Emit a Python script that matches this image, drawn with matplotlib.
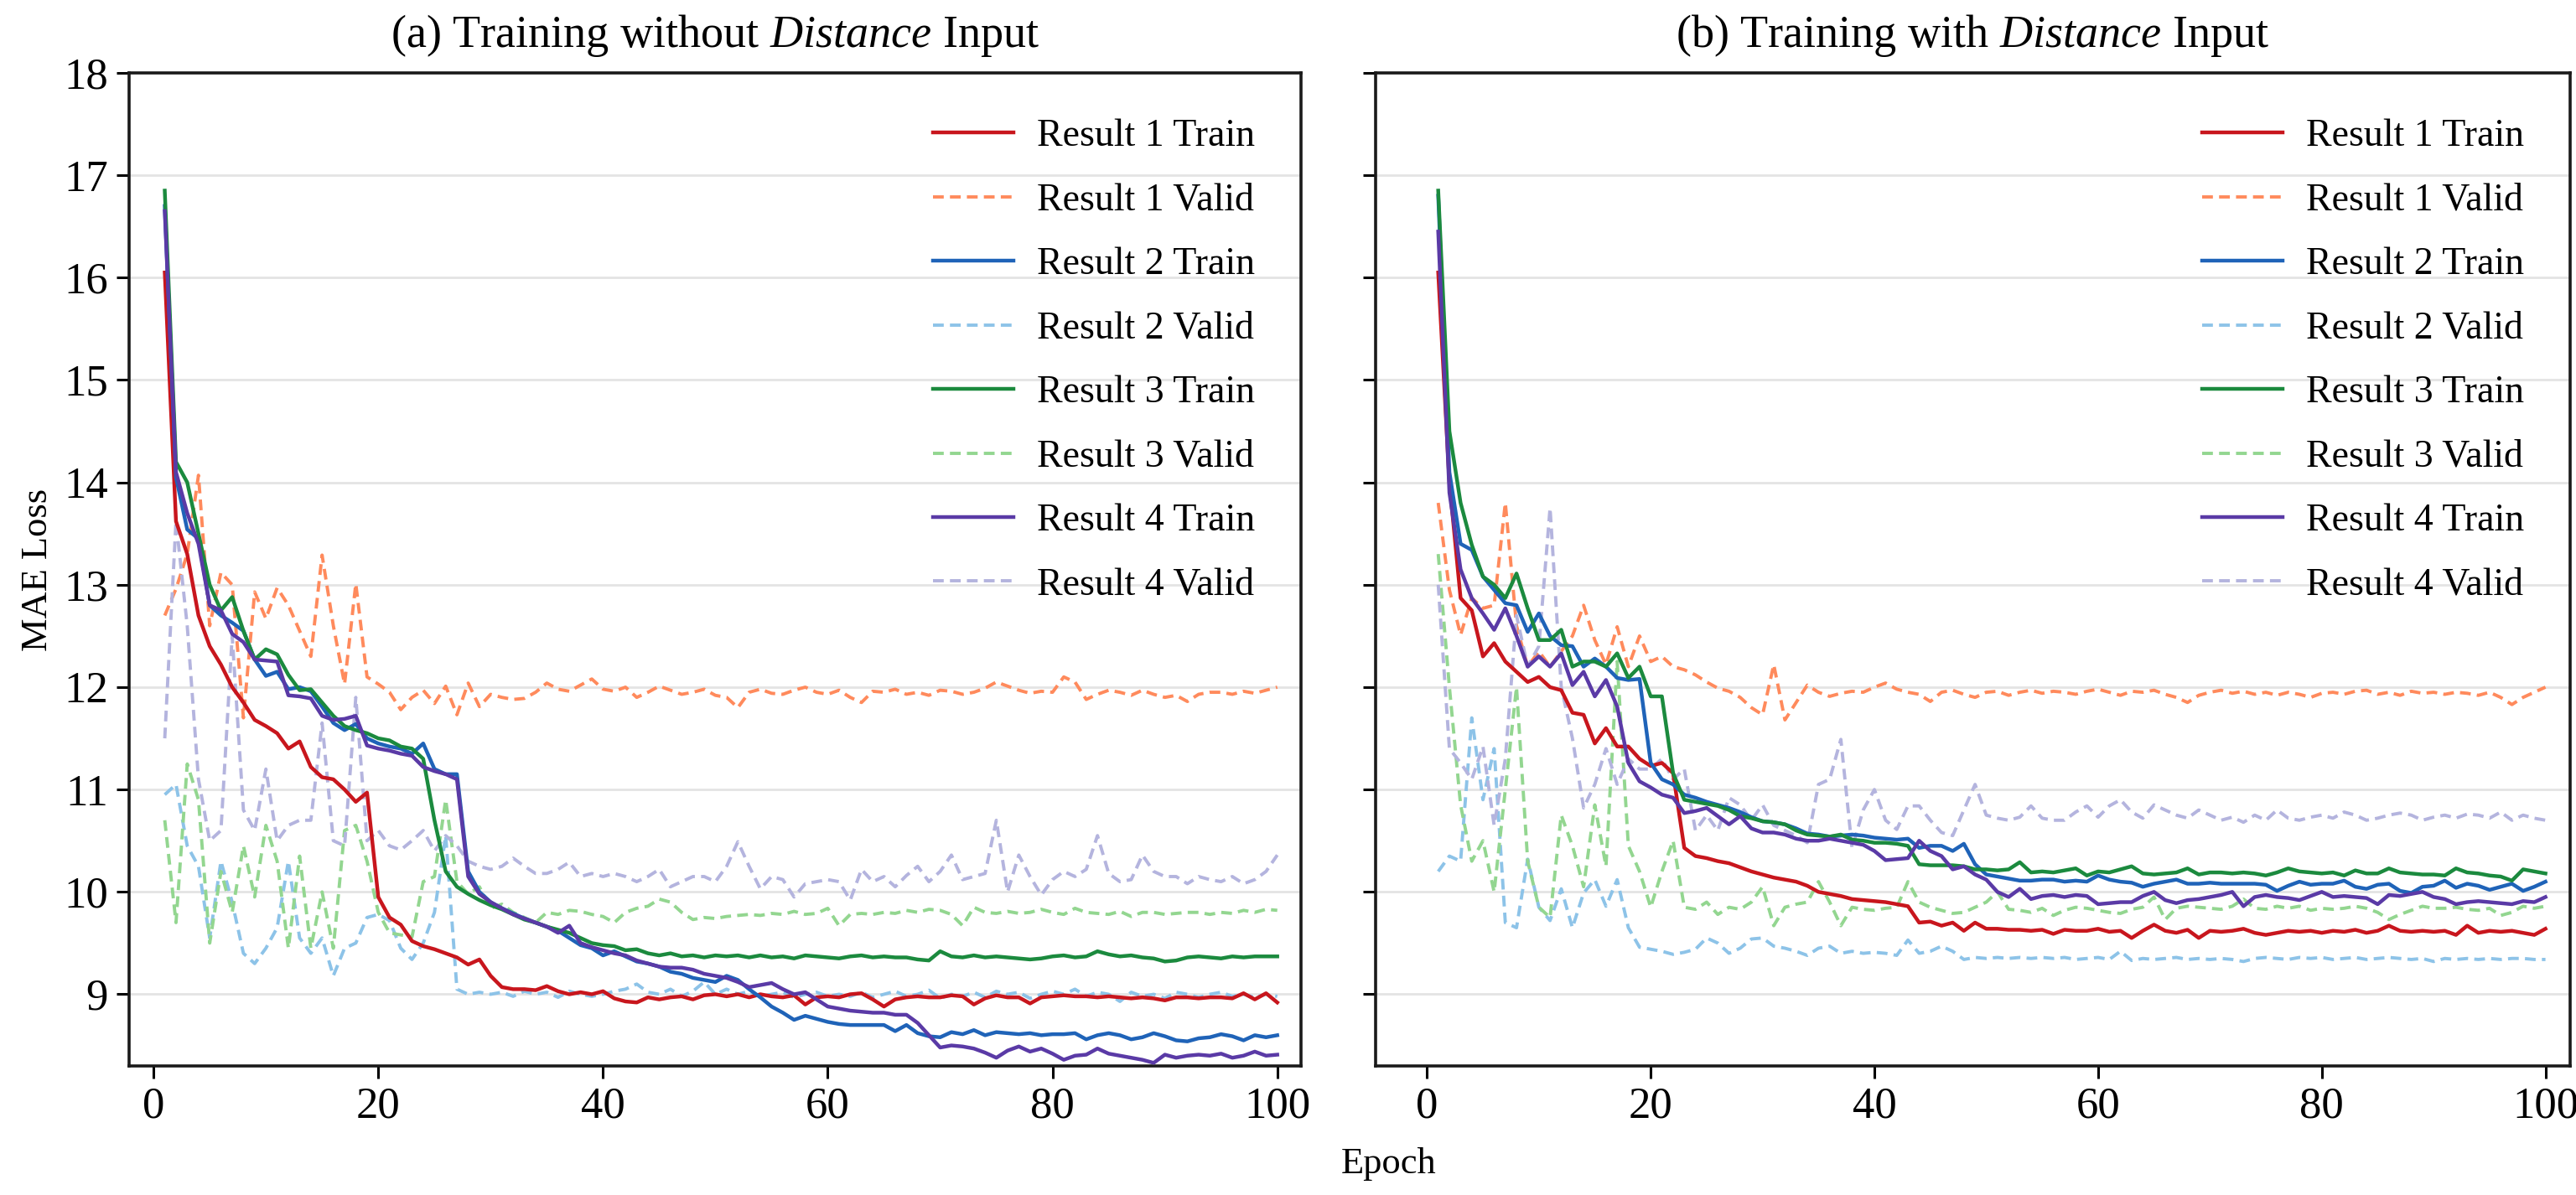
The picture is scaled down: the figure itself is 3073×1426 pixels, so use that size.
import matplotlib
matplotlib.use("Agg")
import matplotlib.pyplot as plt
import numpy as np

plt.rcParams["font.family"] = ["Liberation Serif", "DejaVu Serif"]
plt.rcParams["mathtext.fontset"] = "custom"
plt.rcParams["mathtext.rm"] = "Liberation Serif"
plt.rcParams["mathtext.it"] = "Liberation Serif:italic"

epochs = np.arange(1, 101)

# ---- (a) training without distance input ----
a_r1_train = [16.05, 13.62, 13.30, 12.70, 12.40, 12.22, 12.00, 11.85, 11.68, 11.62,
              11.55, 11.40, 11.47, 11.22, 11.12, 11.10, 11.00, 10.88, 10.97, 9.95,
              9.75, 9.68, 9.52, 9.47, 9.44, 9.40, 9.36, 9.29, 9.34, 9.18,
              9.07, 9.05, 9.05, 9.04, 9.08, 9.03, 9.00, 9.02, 9.00, 9.03,
              8.96, 8.93, 8.92, 8.97, 8.95, 8.97, 8.98, 8.95, 8.99, 9.00,
              8.98, 9.00, 8.97, 9.00, 8.98, 8.97, 8.99, 8.90, 8.97, 8.98,
              8.97, 9.00, 9.01, 8.95, 8.88, 8.95, 8.97, 8.98, 8.97, 8.97,
              8.99, 8.98, 8.90, 8.96, 8.99, 8.97, 8.97, 8.91, 8.97, 8.98,
              8.99, 8.98, 8.98, 8.97, 8.98, 8.97, 8.96, 8.97, 8.96, 8.94,
              8.97, 8.97, 8.96, 8.97, 8.97, 8.96, 9.01, 8.95, 9.01, 8.92]
a_r1_valid = [12.70, 12.96, 13.30, 14.07, 12.60, 13.12, 13.00, 11.70, 12.93, 12.67,
              12.97, 12.80, 12.55, 12.30, 13.29, 12.60, 12.03, 13.01, 12.10, 12.03,
              11.95, 11.78, 11.90, 11.97, 11.84, 12.01, 11.73, 12.04, 11.81, 11.93,
              11.90, 11.88, 11.89, 11.95, 12.04, 11.98, 11.96, 12.02, 12.08, 11.98,
              11.96, 12.00, 11.90, 11.95, 12.01, 11.97, 11.93, 11.95, 11.98, 11.92,
              11.90, 11.80, 11.95, 11.98, 11.94, 11.93, 11.97, 12.00, 11.95, 11.93,
              11.97, 11.90, 11.85, 11.96, 11.95, 11.98, 11.93, 11.95, 11.92, 11.97,
              11.96, 11.93, 11.95, 11.99, 12.05, 12.01, 11.97, 11.94, 11.96, 11.95,
              12.10, 12.05, 11.88, 11.93, 11.97, 11.95, 11.92, 11.97, 11.93, 11.90,
              11.92, 11.86, 11.93, 11.95, 11.95, 11.93, 11.96, 11.94, 11.97, 12.00]
a_r2_train = [16.70, 14.05, 13.54, 13.45, 12.80, 12.70, 12.63, 12.55, 12.27, 12.11,
              12.15, 11.98, 12.00, 11.96, 11.81, 11.65, 11.58, 11.64, 11.50, 11.45,
              11.42, 11.40, 11.35, 11.45, 11.20, 11.15, 11.15, 10.20, 10.00, 9.90,
              9.84, 9.79, 9.74, 9.70, 9.66, 9.62, 9.55, 9.48, 9.45, 9.38,
              9.42, 9.37, 9.32, 9.30, 9.27, 9.22, 9.20, 9.16, 9.14, 9.12,
              9.18, 9.14, 9.05, 8.97, 8.88, 8.82, 8.75, 8.79, 8.76, 8.73,
              8.71, 8.70, 8.70, 8.70, 8.70, 8.64, 8.70, 8.62, 8.59, 8.58,
              8.63, 8.61, 8.65, 8.60, 8.63, 8.62, 8.61, 8.62, 8.60, 8.61,
              8.61, 8.62, 8.56, 8.60, 8.62, 8.60, 8.56, 8.58, 8.62, 8.59,
              8.55, 8.54, 8.57, 8.58, 8.61, 8.59, 8.55, 8.60, 8.58, 8.60]
a_r2_valid = [10.95, 11.05, 10.45, 10.25, 9.55, 10.30, 9.90, 9.40, 9.30, 9.45,
              9.65, 10.30, 9.55, 9.40, 9.55, 9.18, 9.45, 9.50, 9.75, 9.78,
              9.72, 9.45, 9.34, 9.50, 9.80, 10.55, 9.05, 9.00, 9.02, 9.00,
              9.02, 8.98, 9.03, 9.00, 9.02, 8.97, 9.03, 9.00, 8.98, 9.00,
              9.03, 9.05, 9.10, 9.02, 9.00, 9.05, 8.98, 9.03, 9.12, 9.00,
              9.05, 9.00, 9.03, 8.98, 9.00, 9.02, 8.97, 9.00, 9.02, 8.98,
              9.00, 8.98, 9.02, 8.97, 9.00, 9.03, 8.98, 9.00, 9.04, 8.96,
              9.00, 8.98, 9.02, 8.97, 9.03, 9.00, 9.02, 8.96, 9.00, 9.03,
              9.00, 9.05, 8.98, 9.02, 9.00, 8.93, 9.02, 8.98, 9.00, 8.96,
              9.02, 9.00, 8.97, 9.00, 9.02, 8.98, 9.00, 8.97, 9.00, 8.98]
a_r3_train = [16.85, 14.20, 14.00, 13.50, 13.00, 12.75, 12.88, 12.55, 12.27, 12.37,
              12.32, 12.12, 11.97, 11.98, 11.85, 11.72, 11.62, 11.58, 11.55, 11.50,
              11.48, 11.42, 11.40, 11.30, 10.70, 10.20, 10.05, 9.98, 9.92, 9.87,
              9.83, 9.78, 9.73, 9.70, 9.66, 9.63, 9.60, 9.55, 9.50, 9.48,
              9.47, 9.43, 9.44, 9.40, 9.38, 9.40, 9.37, 9.38, 9.36, 9.38,
              9.37, 9.38, 9.36, 9.38, 9.36, 9.37, 9.35, 9.38, 9.37, 9.36,
              9.35, 9.37, 9.38, 9.36, 9.37, 9.36, 9.36, 9.34, 9.33, 9.42,
              9.37, 9.36, 9.38, 9.36, 9.37, 9.36, 9.35, 9.34, 9.35, 9.37,
              9.38, 9.36, 9.37, 9.42, 9.39, 9.37, 9.38, 9.36, 9.35, 9.32,
              9.33, 9.36, 9.37, 9.36, 9.35, 9.37, 9.36, 9.37, 9.37, 9.37]
a_r3_valid = [10.70, 9.70, 11.25, 10.90, 9.50, 10.20, 9.80, 10.45, 9.95, 10.65,
              10.30, 9.45, 10.35, 9.45, 10.00, 9.45, 10.60, 10.65, 10.30, 9.80,
              9.60, 9.58, 9.56, 10.10, 10.15, 10.90, 10.10, 9.98, 10.05, 9.84,
              9.88, 9.80, 9.75, 9.70, 9.80, 9.78, 9.82, 9.81, 9.78, 9.76,
              9.70, 9.80, 9.84, 9.86, 9.93, 9.90, 9.80, 9.73, 9.75, 9.74,
              9.76, 9.77, 9.78, 9.77, 9.79, 9.78, 9.81, 9.78, 9.79, 9.84,
              9.67, 9.78, 9.79, 9.78, 9.80, 9.79, 9.82, 9.80, 9.83, 9.82,
              9.78, 9.67, 9.85, 9.80, 9.79, 9.81, 9.79, 9.80, 9.83, 9.80,
              9.78, 9.84, 9.80, 9.79, 9.78, 9.81, 9.76, 9.80, 9.80, 9.78,
              9.79, 9.80, 9.80, 9.78, 9.80, 9.79, 9.82, 9.80, 9.83, 9.82]
a_r4_train = [16.65, 14.10, 13.70, 13.40, 12.80, 12.75, 12.52, 12.44, 12.27, 12.26,
              12.25, 11.92, 11.91, 11.89, 11.72, 11.68, 11.69, 11.72, 11.43, 11.40,
              11.38, 11.35, 11.33, 11.22, 11.18, 11.15, 11.10, 10.15, 9.98, 9.90,
              9.84, 9.78, 9.74, 9.70, 9.66, 9.60, 9.67, 9.50, 9.46, 9.43,
              9.40, 9.38, 9.33, 9.30, 9.27, 9.26, 9.26, 9.24, 9.20, 9.18,
              9.16, 9.12, 9.07, 9.09, 9.11, 9.05, 9.00, 9.02, 8.95, 8.88,
              8.86, 8.84, 8.83, 8.82, 8.82, 8.80, 8.80, 8.72, 8.60, 8.48,
              8.50, 8.49, 8.47, 8.43, 8.38, 8.45, 8.49, 8.44, 8.47, 8.42,
              8.36, 8.40, 8.41, 8.47, 8.42, 8.40, 8.38, 8.36, 8.33, 8.41,
              8.38, 8.40, 8.41, 8.40, 8.42, 8.38, 8.40, 8.44, 8.40, 8.41]
a_r4_valid = [11.50, 13.62, 12.60, 11.10, 10.50, 10.60, 12.50, 10.80, 10.60, 11.20,
              10.50, 10.65, 10.70, 10.70, 11.65, 10.50, 10.45, 11.90, 10.50, 10.60,
              10.45, 10.41, 10.50, 10.60, 10.40, 10.55, 10.45, 10.30, 10.25, 10.22,
              10.25, 10.33, 10.25, 10.18, 10.18, 10.22, 10.29, 10.15, 10.18, 10.15,
              10.18, 10.15, 10.10, 10.15, 10.22, 10.05, 10.10, 10.15, 10.15, 10.10,
              10.25, 10.49, 10.25, 10.03, 10.15, 10.12, 9.95, 10.08, 10.10, 10.12,
              10.10, 9.92, 10.22, 10.10, 10.15, 10.05, 10.16, 10.25, 10.10, 10.20,
              10.36, 10.12, 10.15, 10.18, 10.70, 10.00, 10.36, 10.15, 9.97, 10.12,
              10.20, 10.15, 10.22, 10.55, 10.18, 10.10, 10.12, 10.36, 10.20, 10.15,
              10.15, 10.08, 10.15, 10.12, 10.10, 10.15, 10.08, 10.12, 10.20, 10.36]

# ---- (b) training with distance input ----
b_r1_train = [16.05, 14.00, 12.87, 12.75, 12.30, 12.43, 12.25, 12.15, 12.05, 12.10,
              12.00, 11.97, 11.75, 11.73, 11.45, 11.60, 11.42, 11.42, 11.30, 11.23,
              11.26, 11.16, 10.43, 10.35, 10.33, 10.30, 10.28, 10.24, 10.20, 10.17,
              10.14, 10.12, 10.10, 10.06, 10.00, 9.98, 9.96, 9.93, 9.92, 9.91,
              9.90, 9.88, 9.86, 9.70, 9.71, 9.67, 9.70, 9.62, 9.70, 9.64,
              9.64, 9.63, 9.63, 9.62, 9.63, 9.59, 9.63, 9.62, 9.62, 9.64,
              9.61, 9.62, 9.55, 9.62, 9.68, 9.62, 9.60, 9.63, 9.55, 9.62,
              9.61, 9.62, 9.64, 9.60, 9.58, 9.60, 9.62, 9.61, 9.62, 9.60,
              9.62, 9.61, 9.63, 9.60, 9.62, 9.67, 9.62, 9.61, 9.62, 9.61,
              9.62, 9.58, 9.67, 9.60, 9.62, 9.61, 9.62, 9.60, 9.58, 9.64]
b_r1_valid = [13.80, 12.95, 12.51, 12.87, 12.77, 12.80, 13.80, 12.60, 12.20, 12.35,
              12.20, 12.35, 12.50, 12.80, 12.46, 12.22, 12.59, 12.20, 12.50, 12.25,
              12.30, 12.20, 12.17, 12.12, 12.05, 11.99, 11.96, 11.90, 11.80, 11.73,
              12.22, 11.68, 11.85, 12.02, 11.95, 11.91, 11.94, 11.96, 11.95, 12.00,
              12.04, 11.98, 11.95, 11.93, 11.86, 11.95, 11.97, 11.93, 11.90, 11.95,
              11.96, 11.92, 11.95, 11.97, 11.94, 11.96, 11.95, 11.93, 11.96, 11.98,
              11.95, 11.92, 11.96, 11.95, 11.97, 11.93, 11.90, 11.85, 11.92, 11.95,
              11.97, 11.94, 11.96, 11.93, 11.95, 11.92, 11.95, 11.93, 11.90, 11.94,
              11.95, 11.93, 11.96, 11.97, 11.93, 11.95, 11.92, 11.96, 11.94, 11.95,
              11.93, 11.95, 11.94, 11.92, 11.95, 11.90, 11.83, 11.90, 11.95, 12.00]
b_r2_train = [16.80, 14.10, 13.40, 13.34, 13.08, 12.95, 12.82, 12.80, 12.54, 12.72,
              12.50, 12.41, 12.40, 12.20, 12.28, 12.20, 12.09, 12.07, 12.08, 11.26,
              11.10, 11.05, 10.95, 10.92, 10.88, 10.85, 10.82, 10.78, 10.73, 10.69,
              10.68, 10.66, 10.62, 10.57, 10.56, 10.54, 10.55, 10.56, 10.55, 10.53,
              10.52, 10.51, 10.52, 10.43, 10.45, 10.45, 10.40, 10.47, 10.27, 10.17,
              10.15, 10.13, 10.11, 10.11, 10.12, 10.12, 10.10, 10.11, 10.10, 10.16,
              10.12, 10.10, 10.09, 10.05, 10.08, 10.10, 10.12, 10.08, 10.08, 10.09,
              10.08, 10.08, 10.08, 10.08, 10.07, 10.01, 10.06, 10.10, 10.07, 10.08,
              10.08, 10.11, 10.05, 10.03, 10.07, 10.08, 10.01, 9.99, 10.05, 10.06,
              10.11, 10.04, 10.08, 10.06, 10.02, 10.05, 10.08, 10.01, 10.05, 10.10]
b_r2_valid = [10.20, 10.35, 10.30, 11.70, 10.90, 11.40, 9.70, 9.65, 10.32, 9.85,
              9.72, 10.03, 9.65, 9.99, 10.12, 9.86, 10.12, 9.65, 9.46, 9.44,
              9.42, 9.39, 9.41, 9.44, 9.55, 9.50, 9.40, 9.45, 9.54, 9.55,
              9.47, 9.45, 9.42, 9.38, 9.45, 9.47, 9.40, 9.42, 9.40, 9.41,
              9.40, 9.38, 9.53, 9.40, 9.42, 9.47, 9.42, 9.34, 9.36, 9.35,
              9.36, 9.35, 9.36, 9.35, 9.36, 9.35, 9.36, 9.34, 9.35, 9.36,
              9.34, 9.42, 9.33, 9.35, 9.34, 9.35, 9.36, 9.34, 9.35, 9.34,
              9.35, 9.34, 9.32, 9.35, 9.36, 9.35, 9.34, 9.36, 9.35, 9.36,
              9.34, 9.35, 9.36, 9.34, 9.35, 9.36, 9.35, 9.34, 9.35, 9.32,
              9.35, 9.34, 9.35, 9.34, 9.35, 9.34, 9.35, 9.35, 9.34, 9.34]
b_r3_train = [16.85, 14.50, 13.80, 13.39, 13.08, 13.00, 12.87, 13.11, 12.77, 12.46,
              12.46, 12.56, 12.20, 12.25, 12.25, 12.20, 12.33, 12.09, 12.20, 11.91,
              11.91, 11.16, 10.90, 10.88, 10.86, 10.84, 10.80, 10.74, 10.72, 10.69,
              10.68, 10.66, 10.60, 10.56, 10.55, 10.54, 10.56, 10.51, 10.50, 10.48,
              10.48, 10.47, 10.45, 10.27, 10.26, 10.26, 10.26, 10.25, 10.22, 10.22,
              10.21, 10.22, 10.29, 10.19, 10.20, 10.19, 10.21, 10.23, 10.16, 10.20,
              10.19, 10.22, 10.25, 10.18, 10.17, 10.18, 10.19, 10.23, 10.17, 10.19,
              10.19, 10.18, 10.19, 10.18, 10.16, 10.19, 10.23, 10.20, 10.19, 10.18,
              10.19, 10.16, 10.21, 10.18, 10.18, 10.23, 10.19, 10.18, 10.17, 10.17,
              10.16, 10.23, 10.19, 10.18, 10.16, 10.15, 10.11, 10.22, 10.20, 10.18]
b_r3_valid = [13.30, 12.00, 10.85, 10.30, 10.50, 10.00, 11.00, 12.00, 10.30, 9.85,
              9.75, 10.75, 10.45, 10.05, 10.85, 10.25, 12.25, 10.45, 10.20, 9.85,
              10.20, 10.50, 9.85, 9.83, 9.90, 9.78, 9.85, 9.83, 9.90, 10.05,
              9.67, 9.85, 9.88, 9.90, 10.10, 9.90, 9.67, 9.85, 9.83, 9.82,
              9.84, 9.85, 10.10, 9.90, 9.85, 9.82, 9.79, 9.80, 9.85, 9.90,
              10.00, 9.83, 9.82, 9.80, 9.84, 9.77, 9.82, 9.85, 9.84, 9.82,
              9.80, 9.79, 9.83, 9.85, 9.95, 9.73, 9.84, 9.86, 9.85, 9.84,
              9.83, 9.86, 9.93, 9.84, 9.83, 9.86, 9.84, 9.86, 9.82, 9.84,
              9.83, 9.84, 9.86, 9.84, 9.80, 9.73, 9.78, 9.82, 9.86, 9.84,
              9.84, 9.85, 9.83, 9.82, 9.84, 9.77, 9.80, 9.86, 9.84, 9.86]
b_r4_train = [16.45, 13.90, 13.15, 12.87, 12.72, 12.56, 12.77, 12.50, 12.20, 12.30,
              12.20, 12.33, 12.02, 12.15, 11.91, 12.07, 11.81, 11.26, 11.08, 11.02,
              10.95, 10.92, 10.77, 10.79, 10.82, 10.74, 10.66, 10.74, 10.62, 10.58,
              10.58, 10.56, 10.52, 10.50, 10.50, 10.52, 10.50, 10.48, 10.46, 10.40,
              10.31, 10.32, 10.33, 10.50, 10.40, 10.35, 10.22, 10.25, 10.17, 10.12,
              10.00, 9.95, 10.03, 9.93, 9.96, 9.97, 9.95, 9.97, 9.96, 9.88,
              9.89, 9.90, 9.90, 9.96, 10.00, 9.92, 9.89, 9.92, 9.93, 9.95,
              9.97, 10.00, 9.86, 9.95, 9.97, 9.95, 9.94, 9.92, 9.96, 10.00,
              9.95, 9.96, 9.95, 9.94, 9.88, 9.97, 9.96, 9.98, 10.00, 9.95,
              9.93, 9.88, 9.90, 9.91, 9.90, 9.89, 9.88, 9.91, 9.90, 9.95]
b_r4_valid = [13.00, 11.40, 11.26, 11.10, 11.42, 10.65, 11.30, 12.70, 12.20, 12.40,
              13.75, 12.00, 11.50, 10.82, 11.05, 11.40, 11.05, 11.30, 11.20, 11.20,
              11.30, 11.10, 11.20, 10.60, 10.75, 10.60, 10.92, 10.85, 10.70, 10.85,
              10.65, 10.60, 10.55, 10.48, 11.05, 11.10, 11.49, 10.43, 10.80, 11.00,
              10.70, 10.61, 10.84, 10.84, 10.70, 10.58, 10.55, 10.80, 11.05, 10.75,
              10.72, 10.70, 10.73, 10.84, 10.72, 10.70, 10.70, 10.78, 10.84, 10.73,
              10.84, 10.90, 10.78, 10.72, 10.85, 10.80, 10.75, 10.72, 10.80, 10.75,
              10.70, 10.73, 10.68, 10.75, 10.70, 10.80, 10.72, 10.70, 10.73, 10.75,
              10.72, 10.78, 10.75, 10.70, 10.72, 10.75, 10.77, 10.75, 10.70, 10.73,
              10.75, 10.72, 10.76, 10.75, 10.72, 10.78, 10.70, 10.75, 10.72, 10.70]

labels = ["Result 1 Train", "Result 1 Valid", "Result 2 Train", "Result 2 Valid",
          "Result 3 Train", "Result 3 Valid", "Result 4 Train", "Result 4 Valid"]
colors = ["#c8161d", "#ff8a5c", "#1f63b8", "#8dc3e8",
          "#1b8a3e", "#93d690", "#5a3aa6", "#b4b4de"]

panel_a = [a_r1_train, a_r1_valid, a_r2_train, a_r2_valid,
           a_r3_train, a_r3_valid, a_r4_train, a_r4_valid]
panel_b = [b_r1_train, b_r1_valid, b_r2_train, b_r2_valid,
           b_r3_train, b_r3_valid, b_r4_train, b_r4_valid]

fig = plt.figure(figsize=(15.365, 7.13), dpi=200)
ax_a = fig.add_axes([0.050, 0.108, 0.455, 0.831])
ax_b = fig.add_axes([0.534, 0.108, 0.4637, 0.831], sharey=ax_a)


def draw_panel(ax, series, title, xlim):
    for i, (vals, lab, col) in enumerate(zip(series, labels, colors)):
        if i % 2 == 0:
            ax.plot(epochs, vals, color=col, lw=1.6, ls="-", label=lab, zorder=3)
        else:
            ax.plot(epochs, vals, color=col, lw=1.4, ls=(0, (3.3, 1.9)), label=lab, zorder=2)
    ax.set_xlim(*xlim)
    ax.set_ylim(8.3, 18)
    ax.set_yticks(range(9, 19))
    ax.set_xticks([0, 20, 40, 60, 80, 100])
    ax.grid(axis="y", color="#e4e4e4", lw=1.0, zorder=0)
    ax.set_axisbelow(True)
    ax.tick_params(direction="out", length=5.5, width=1.1, labelsize=19, colors="black")
    for sp in ax.spines.values():
        sp.set_linewidth(1.3)
        sp.set_color("#1a1a1a")
    ax.set_title(title, fontsize=19.5, pad=11)
    ax.legend(loc="upper right", frameon=False, fontsize=16.5, handlelength=2.1,
              handletextpad=0.6, labelspacing=0.74, borderaxespad=0.8)


draw_panel(ax_a, panel_a, r"(a) Training without $\it{Distance}$ Input", (-2.2, 102.1))
draw_panel(ax_b, panel_b, r"(b) Training with $\it{Distance}$ Input", (-4.6, 102.2))
plt.setp(ax_b.get_yticklabels(), visible=False)

ax_a.set_ylabel("MAE Loss", fontsize=16, labelpad=4)
fig.text(0.539, 0.012, "Epoch", ha="center", va="bottom", fontsize=16)

fig.savefig("out.png", dpi=200)
